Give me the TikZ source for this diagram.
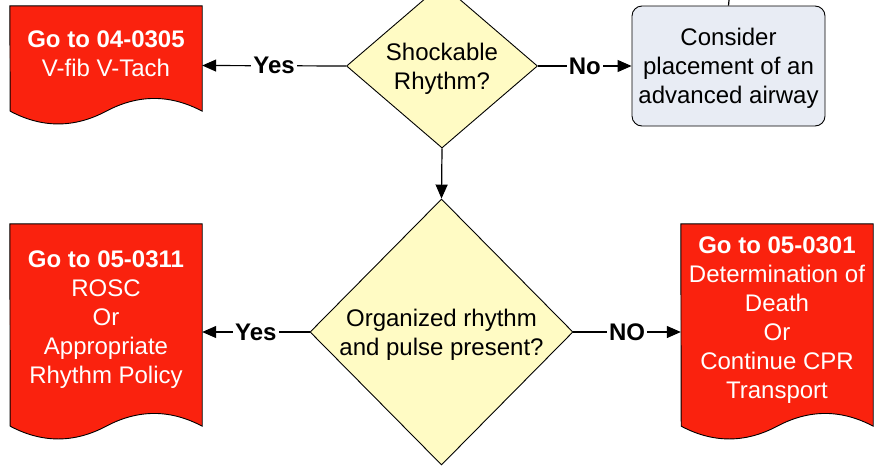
\documentclass[tikz,border=0pt]{standalone}
\usepackage{fontspec}
\setmainfont{Liberation Sans}
\usepackage{tikz}
\usetikzlibrary{arrows.meta}
\usetikzlibrary{shapes.geometric}

\definecolor{docred}{RGB}{250,34,14}
\definecolor{askyellow}{RGB}{255,251,196}
\definecolor{stepgray}{RGB}{232,236,244}

% wavy bottom of a document shape, drawn round a named node
\newcommand{\wavedoc}[1]{%
  \draw[fill=docred,line width=0.9pt] (#1.north west) -- (#1.north east)
    -- ([yshift=14pt]#1.south east)
    .. controls +(-32,-17) and +(32,-17) .. ++(-96,0)
    .. controls +(-32,17) and +(32,17) .. ++(-96,0) -- cycle;}

\begin{document}
\begin{tikzpicture}[x=1pt,y=-1pt,
    every node/.style={font=\fontsize{24}{29}\selectfont},
    docbox/.style={draw=none,minimum width=192pt,inner sep=0pt},
    doctext/.style={text=white,align=center,inner sep=0pt},
    ask/.style={diamond,draw,line width=0.9pt,fill=askyellow,align=center,inner sep=0pt,
      text depth=0pt},
    stepbox/.style={draw,line width=0.9pt,fill=stepgray,rounded corners=10pt,align=center,
      minimum width=193pt,minimum height=120pt,inner sep=0pt,text depth=0pt},
    flow/.style={line width=1.2pt,-{Triangle[length=14pt,width=12pt]}},
    answer/.style={midway,fill=white,inner sep=2pt,font=\fontsize{24}{29}\selectfont\bfseries}]
  \useasboundingbox (0,0) rectangle (875,466);

  % first question
  \node[ask,minimum width=191pt,minimum height=164pt,aspect=1.16] (shock) at (442,66)
    {Shockable\\Rhythm?};
  \node[docbox,minimum height=119pt] (vfib) at (106,65.5) {};
  \wavedoc{vfib}
  \node[doctext] (vfibtxt) at ([yshift=12pt]vfib.center) {\textbf{Go to 04-0305}\\V-fib V-Tach};
  \node[stepbox] (airway) at (728.5,66) {Consider\\placement of an\\advanced airway};
  \coordinate (fromtop) at (729,0);
  \draw[line width=1.2pt] (fromtop) -- (airway.north);

  \draw[flow] (shock.west) -- (vfib.east) node[answer] {Yes};
  \draw[flow] (shock.east) -- (airway.west) node[answer] {No};

  % second question
  \node[ask,minimum width=263pt,minimum height=266pt] (pulse) at (441.5,332)
    {Organized rhythm\\and pulse present?};
  \draw[flow] (shock.south) -- (pulse.north);

  \node[docbox,minimum height=216pt] (rosc) at (106,332) {};
  \wavedoc{rosc}
  \node[doctext] (rosctxt) at ([yshift=12pt]rosc.center)
    {\textbf{Go to 05-0311}\\ROSC\\Or\\Appropriate\\Rhythm Policy};
  \node[docbox,minimum height=216pt] (death) at (777,332) {};
  \wavedoc{death}
  \node[doctext] (deathtxt) at ([yshift=12pt]death.center)
    {\textbf{Go to 05-0301}\\Determination of\\Death\\Or\\Continue CPR\\Transport};

  \draw[flow] (pulse.west) -- (rosc.east) node[answer] {Yes};
  \draw[flow] (pulse.east) -- (death.west) node[answer] {NO};
\end{tikzpicture}
\end{document}
